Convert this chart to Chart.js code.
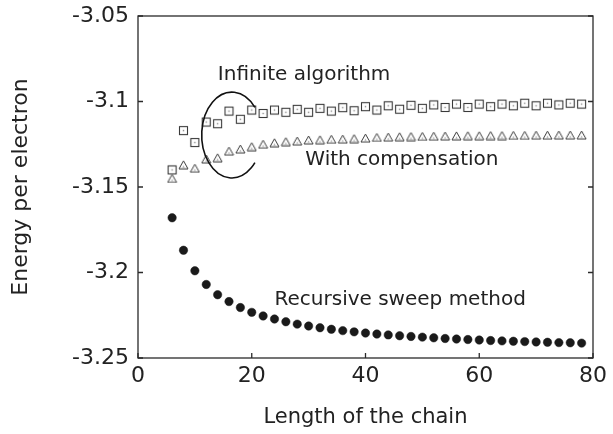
<!DOCTYPE html>
<html>
<head>
<meta charset="utf-8">
<script src="https://cdn.jsdelivr.net/npm/chart.js@4/dist/chart.umd.min.js"></script>
<style>
html,body{margin:0;padding:0;background:#fff;}
canvas{display:block;}
</style>
</head>
<body>
<canvas id="c" width="613" height="434"></canvas>
<script>
// ---- data ----
const chainLength = [6,8,10,12,14,16,18,20,22,24,26,28,30,32,34,36,38,40,42,44,46,48,50,52,54,56,58,60,62,64,66,68,70,72,74,76,78];
const infiniteAlgorithm = [-3.140,-3.117,-3.124,-3.112,-3.113,-3.1056,-3.1104,-3.105,-3.107,-3.105,-3.1063,-3.1046,-3.1063,-3.104,-3.1056,-3.1036,-3.1054,-3.103,-3.105,-3.1025,-3.1045,-3.1022,-3.104,-3.102,-3.1035,-3.1015,-3.1035,-3.1015,-3.103,-3.1015,-3.1025,-3.101,-3.1025,-3.101,-3.102,-3.101,-3.1015];
const withCompensation = [-3.145,-3.137,-3.139,-3.1336,-3.1329,-3.129,-3.1278,-3.1264,-3.125,-3.1241,-3.1235,-3.1231,-3.1225,-3.1224,-3.1221,-3.122,-3.1217,-3.1214,-3.121,-3.1208,-3.1206,-3.1205,-3.1204,-3.1203,-3.1202,-3.1201,-3.12,-3.12,-3.1199,-3.1199,-3.1198,-3.1198,-3.1197,-3.1197,-3.1196,-3.1196,-3.1196];
const recursiveSweep = [-3.168,-3.187,-3.199,-3.207,-3.213,-3.217,-3.2205,-3.2233,-3.2254,-3.2272,-3.2288,-3.2302,-3.2313,-3.2323,-3.2332,-3.234,-3.2347,-3.2354,-3.236,-3.2365,-3.237,-3.2374,-3.2378,-3.2382,-3.2386,-3.2389,-3.2392,-3.2395,-3.2398,-3.24,-3.2402,-3.2404,-3.2406,-3.2408,-3.241,-3.2411,-3.2413];
const xTicks = [0,20,40,60,80];
const yTicks = [-3.25,-3.2,-3.15,-3.1,-3.05];
const xTitle = "Length of the chain";
const yTitle = "Energy per electron";
const labels = [
  {text:"Infinite algorithm", x:29.2, y:-3.0845},
  {text:"With compensation", x:46.4, y:-3.1342},
  {text:"Recursive sweep method", x:46.1, y:-3.216}
];
const arcSpec = {cx:16.5, cy:-3.1196, rx:5.3, ry:0.0251};

// ---- marker images ----
function squareMarker(){
  const c=document.createElement('canvas'); c.width=11; c.height=11;
  const g=c.getContext('2d');
  g.fillStyle='#fff'; g.fillRect(1.5,1.5,8,8);
  g.strokeStyle='#3a3a3a'; g.lineWidth=1.1; g.strokeRect(1.5,1.5,8,8);
  g.fillStyle='#888'; g.fillRect(4.8,4.8,1.4,1.4);
  return c;
}
function triMarker(){
  const c=document.createElement('canvas'); c.width=11; c.height=10;
  const g=c.getContext('2d');
  g.beginPath(); g.moveTo(5.5,1); g.lineTo(10,9); g.lineTo(1,9); g.closePath();
  g.fillStyle='#fff'; g.fill();
  g.strokeStyle='#3a3a3a'; g.lineWidth=1.0; g.stroke();
  g.beginPath(); g.moveTo(5.5,5.4); g.lineTo(6.7,7.8); g.lineTo(4.3,7.8); g.closePath();
  g.fillStyle='#b0b0b0'; g.fill();
  return c;
}
const sqImg = squareMarker();
const trImg = triMarker();

const pts = (ys)=>chainLength.map((x,i)=>({x:x,y:ys[i]}));
const FONT = "'DejaVu Sans', 'Liberation Sans', Arial, sans-serif";

const framePlugin = {
  id:'frame',
  afterDatasetsDraw(chart){
    const ctx=chart.ctx, a=chart.chartArea, xs=chart.scales.x, ys=chart.scales.y;
    ctx.save();
    ctx.strokeStyle='#2a2a2a'; ctx.lineWidth=1.3;
    ctx.strokeRect(a.left, a.top, a.right-a.left, a.bottom-a.top);
    const tl=5;
    ctx.beginPath();
    xTicks.forEach(v=>{const p=xs.getPixelForValue(v); ctx.moveTo(p,a.bottom); ctx.lineTo(p,a.bottom-tl);});
    yTicks.forEach(v=>{const p=ys.getPixelForValue(v); ctx.moveTo(a.left,p); ctx.lineTo(a.left+tl,p); ctx.moveTo(a.right,p); ctx.lineTo(a.right-tl,p);});
    ctx.stroke();
    // annotation arc
    const cx=xs.getPixelForValue(arcSpec.cx), cy=ys.getPixelForValue(arcSpec.cy);
    const rx=Math.abs(xs.getPixelForValue(arcSpec.cx+arcSpec.rx)-cx);
    const ry=Math.abs(ys.getPixelForValue(arcSpec.cy+arcSpec.ry)-cy);
    ctx.beginPath();
    ctx.lineWidth=1.6; ctx.strokeStyle='#111';
    ctx.ellipse(cx,cy,rx,ry,0,-0.70,0.70,true);
    ctx.stroke();
    // text labels
    ctx.fillStyle='#222';
    ctx.font='20px '+FONT;
    ctx.textAlign='center'; ctx.textBaseline='middle';
    labels.forEach(l=>ctx.fillText(l.text, xs.getPixelForValue(l.x), ys.getPixelForValue(l.y)));
    ctx.restore();
  }
};

new Chart(document.getElementById('c'), {
  type:'scatter',
  data:{datasets:[
    {label:'Infinite algorithm', data:pts(infiniteAlgorithm), pointStyle:sqImg, pointRadius:5, showLine:false},
    {label:'With compensation', data:pts(withCompensation), pointStyle:trImg, pointRadius:5, showLine:false},
    {label:'Recursive sweep method', data:pts(recursiveSweep), pointStyle:'circle', pointRadius:4.2, backgroundColor:'#1a1a1a', borderColor:'#1a1a1a', borderWidth:0.5, showLine:false}
  ]},
  options:{
    responsive:false, animation:false, devicePixelRatio:1,
    layout:{padding:{top:16,right:20,left:0,bottom:0}},
    plugins:{legend:{display:false}, tooltip:{enabled:false}},
    scales:{
      x:{type:'linear', min:0, max:80,
        afterBuildTicks:(s)=>{s.ticks=xTicks.map(v=>({value:v}));},
        afterFit:(s)=>{s.height=76; s.paddingLeft=0; s.paddingRight=0;},
        grid:{display:false, drawTicks:false}, border:{display:false},
        ticks:{font:{size:22,family:FONT}, color:'#222', padding:5, maxRotation:0},
        title:{display:true, text:xTitle, font:{size:21,family:FONT}, color:'#222', padding:{top:0,bottom:4}}
      },
      y:{type:'linear', min:-3.25, max:-3.05,
        afterBuildTicks:(s)=>{s.ticks=yTicks.map(v=>({value:v}));},
        afterFit:(s)=>{s.width=138; s.paddingTop=0; s.paddingBottom=0;},
        grid:{display:false, drawTicks:false}, border:{display:false},
        ticks:{font:{size:22,family:FONT}, color:'#222', padding:9, callback:(v)=>String(Number(v.toFixed(2)))},
        title:{display:true, text:yTitle, font:{size:22,family:FONT}, color:'#222', padding:{top:8,bottom:0}}
      }
    }
  },
  plugins:[framePlugin]
});
</script>
</body>
</html>
